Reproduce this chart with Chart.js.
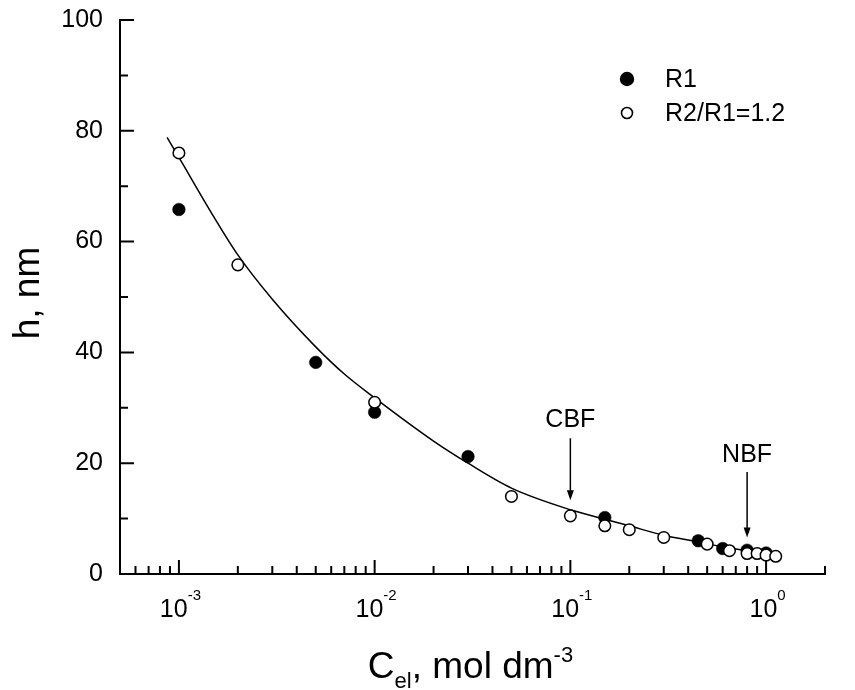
<!DOCTYPE html>
<html>
<head>
<meta charset="utf-8">
<script src="https://cdn.jsdelivr.net/npm/chart.js@4/dist/chart.umd.min.js"></script>
<style>
html,body{margin:0;padding:0;background:#fff;}
#wrap{width:855px;height:690px;position:relative;}
</style>
</head>
<body>
<div id="wrap"><canvas id="c" width="855" height="690"></canvas></div>
<script>
// ---- data ----
const r1X = [0.001, 0.005, 0.01, 0.03, 0.15, 0.45, 0.6, 0.8, 1.0];
const r1Y = [65.8, 38.2, 29.2, 21.2, 10.2, 6.0, 4.6, 4.3, 3.8];

const r2X = [0.001, 0.002, 0.01, 0.05, 0.1, 0.15, 0.2, 0.3, 0.5, 0.65, 0.8, 0.9, 1.0, 1.12];
const r2Y = [76.0, 55.8, 31.0, 14.0, 10.5, 8.7, 8.0, 6.6, 5.4, 4.2, 3.7, 3.7, 3.4, 3.2];

const fitX = [0.00087, 0.001, 0.0015, 0.002, 0.003, 0.005, 0.007, 0.01, 0.02, 0.03, 0.05, 0.1, 0.15, 0.2, 0.3, 0.45, 0.6, 0.8, 1.0];
const fitY = [78.8, 75.2, 64.6, 57.6, 49.6, 41.0, 36.1, 31.8, 24.0, 20.0, 15.5, 11.6, 9.9, 8.7, 7.0, 5.8, 4.9, 4.2, 3.7];

const seriesNames = ['R1', 'R2/R1=1.2'];

const yMajorTicks = [0, 20, 40, 60, 80, 100];
const yMinorTicks = [10, 30, 50, 70, 90];
const xDecades = [0.001, 0.01, 0.1, 1];
const xDecadeExp = ['-3', '-2', '-1', '0'];
const xMinorMult = [2, 3, 4, 5, 6, 7, 8, 9];

const annLabels = ['CBF', 'NBF'];
const annX = [0.1, 0.8];
const annTextY = [27.8, 21.5];
const annFromY = [24.5, 18.4];
const annToY = [13.3, 6.6];

const xMin = 0.0005, xMax = 2, yMin = 0, yMax = 100;
// --------------------------------------

const FONT = '"Liberation Sans", Arial, Helvetica, sans-serif';

function pts(xs, ys) { return xs.map((x, i) => ({ x: x, y: ys[i] })); }

function drawParts(ctx, parts, cx, baseY) {
  let total = 0;
  parts.forEach(p => { ctx.font = p.s + 'px ' + FONT; p.w = ctx.measureText(p.t).width; total += p.w; });
  let x = cx - total / 2;
  ctx.textAlign = 'left';
  ctx.textBaseline = 'alphabetic';
  parts.forEach(p => { ctx.font = p.s + 'px ' + FONT; ctx.fillText(p.t, x, baseY + p.dy); x += p.w; });
}

const decor = {
  id: 'decor',
  afterDraw(chart) {
    const ctx = chart.ctx, a = chart.chartArea, xs = chart.scales.x, ys = chart.scales.y;
    ctx.save();
    ctx.strokeStyle = '#000';
    ctx.fillStyle = '#000';
    ctx.lineWidth = 2;
    ctx.lineCap = 'butt';
    // axis lines
    ctx.beginPath();
    ctx.moveTo(a.left, a.top - 1);
    ctx.lineTo(a.left, a.bottom);
    ctx.lineTo(a.right + 1, a.bottom);
    ctx.stroke();
    // y ticks (inside)
    ctx.beginPath();
    yMajorTicks.forEach(v => { const p = ys.getPixelForValue(v); ctx.moveTo(a.left, p); ctx.lineTo(a.left + 14, p); });
    yMinorTicks.forEach(v => { const p = ys.getPixelForValue(v); ctx.moveTo(a.left, p); ctx.lineTo(a.left + 8, p); });
    // x ticks (inside)
    const decs = [0.0001].concat(xDecades);
    decs.forEach(d => {
      xMinorMult.forEach(m => {
        const v = d * m;
        if (v >= xMin * 0.999 && v <= xMax * 1.001) {
          const p = xs.getPixelForValue(v); ctx.moveTo(p, a.bottom); ctx.lineTo(p, a.bottom - 8);
        }
      });
    });
    xDecades.forEach(d => { const p = xs.getPixelForValue(d); ctx.moveTo(p, a.bottom); ctx.lineTo(p, a.bottom - 14); });
    ctx.stroke();

    // x tick labels 10^n
    xDecades.forEach((d, i) => {
      const p = xs.getPixelForValue(d);
      drawParts(ctx, [{ t: '10', s: 25, dy: 0 }, { t: xDecadeExp[i], s: 15, dy: -17 }], p + 1.5, a.bottom + 43);
    });

    // x title
    drawParts(ctx, [
      { t: 'C', s: 37, dy: 0 },
      { t: 'el', s: 22, dy: 9.5 },
      { t: ', mol dm', s: 37, dy: 0 },
      { t: '-3', s: 22, dy: -16 }
    ], (a.left + a.right) / 2 - 2, 678);

    // y title
    ctx.save();
    ctx.translate(39, (a.top + a.bottom) / 2 - 4);
    ctx.rotate(-Math.PI / 2);
    ctx.font = '37px ' + FONT;
    ctx.textAlign = 'center';
    ctx.textBaseline = 'alphabetic';
    ctx.fillText('h, nm', 0, 0);
    ctx.restore();

    // annotations with arrows
    ctx.lineWidth = 1.5;
    annLabels.forEach((lab, i) => {
      const px = xs.getPixelForValue(annX[i]);
      const yt = ys.getPixelForValue(annTextY[i]);
      const y0 = ys.getPixelForValue(annFromY[i]);
      const y1 = ys.getPixelForValue(annToY[i]);
      ctx.font = '25px ' + FONT;
      ctx.textAlign = 'center';
      ctx.textBaseline = 'middle';
      ctx.fillText(lab, px, yt);
      ctx.beginPath();
      ctx.moveTo(px, y0);
      ctx.lineTo(px, y1 - 8);
      ctx.stroke();
      ctx.beginPath();
      ctx.moveTo(px, y1);
      ctx.lineTo(px - 3.5, y1 - 10);
      ctx.lineTo(px + 3.5, y1 - 10);
      ctx.closePath();
      ctx.fill();
    });

    // legend
    const lx = 627, ly1 = 79, ly2 = 113, tx = 665;
    ctx.beginPath();
    ctx.arc(lx, ly1, 7.2, 0, Math.PI * 2);
    ctx.fill();
    ctx.beginPath();
    ctx.arc(lx, ly2, 5.5, 0, Math.PI * 2);
    ctx.fillStyle = '#fff';
    ctx.fill();
    ctx.lineWidth = 1.6;
    ctx.stroke();
    ctx.fillStyle = '#000';
    ctx.font = '25px ' + FONT;
    ctx.textAlign = 'left';
    ctx.textBaseline = 'middle';
    ctx.fillText(seriesNames[0], tx, ly1 + 1);
    ctx.fillText(seriesNames[1], tx, ly2 + 1);
    ctx.restore();
  }
};

new Chart(document.getElementById('c'), {
  type: 'scatter',
  data: {
    datasets: [
      {
        label: seriesNames[1],
        data: pts(r2X, r2Y),
        order: 0,
        pointRadius: 5.8,
        pointBackgroundColor: '#fff',
        pointBorderColor: '#000',
        pointBorderWidth: 1.5,
        showLine: false
      },
      {
        label: seriesNames[0],
        data: pts(r1X, r1Y),
        order: 1,
        pointRadius: 6.3,
        pointBackgroundColor: '#000',
        pointBorderColor: '#000',
        pointBorderWidth: 0.5,
        showLine: false
      },
      {
        label: 'fit',
        data: pts(fitX, fitY),
        order: 2,
        showLine: true,
        pointRadius: 0,
        borderColor: '#000',
        borderWidth: 1.5,
        cubicInterpolationMode: 'monotone',
        fill: false
      }
    ]
  },
  options: {
    responsive: false,
    animation: false,
    devicePixelRatio: 1,
    events: [],
    layout: { padding: { left: 0, right: 30, top: 20, bottom: 0 } },
    plugins: { legend: { display: false }, tooltip: { enabled: false }, title: { display: false } },
    scales: {
      x: {
        type: 'logarithmic',
        min: xMin,
        max: xMax,
        grid: { display: false, drawTicks: false },
        border: { display: false },
        ticks: { display: false },
        afterFit: s => { s.height = 116; s.paddingLeft = 0; s.paddingRight = 0; }
      },
      y: {
        type: 'linear',
        min: yMin,
        max: yMax,
        grid: { display: false, drawTicks: false },
        border: { display: false },
        afterBuildTicks: s => { s.ticks = yMajorTicks.map(v => ({ value: v })); },
        ticks: {
          color: '#000',
          padding: 17,
          font: { family: FONT, size: 25 },
          callback: v => String(v)
        },
        afterFit: s => { s.width = 120; s.paddingTop = 0; s.paddingBottom = 0; }
      }
    }
  },
  plugins: [decor]
});
</script>
</body>
</html>
